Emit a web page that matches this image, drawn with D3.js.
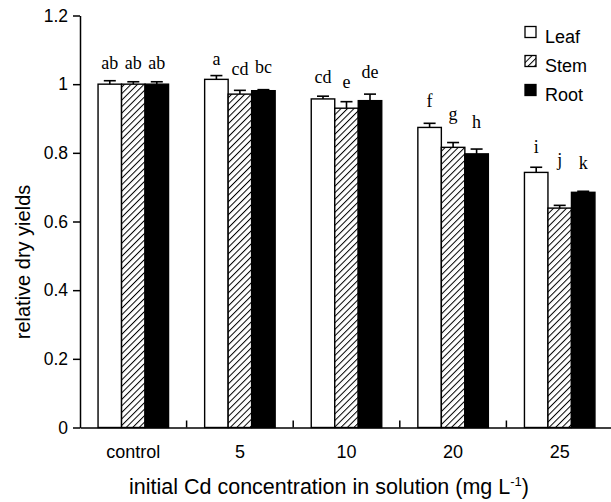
<!DOCTYPE html>
<html>
<head>
<meta charset="utf-8">
<script src="https://cdn.jsdelivr.net/npm/d3@7"></script>
<style>
  html, body { margin: 0; padding: 0; background: #fff; }
  svg { display: block; }
</style>
</head>
<body>
<svg id="chart" width="611" height="502"></svg>
<script>
// ---- data ----
const categories = ["control", "5", "10", "20", "25"];
const seriesNames = ["Leaf", "Stem", "Root"];
const leafValues = [1.000, 1.014, 0.957, 0.874, 0.743];
const stemValues = [1.000, 0.971, 0.930, 0.816, 0.639];
const rootValues = [1.000, 0.981, 0.952, 0.797, 0.685];
const leafErrors = [0.010, 0.011, 0.008, 0.012, 0.015];
const stemErrors = [0.007, 0.011, 0.019, 0.014, 0.008];
const rootErrors = [0.007, 0.003, 0.019, 0.014, 0.003];
const leafLetters = ["ab", "a", "cd", "f", "i"];
const stemLetters = ["ab", "cd", "e", "g", "j"];
const rootLetters = ["ab", "bc", "de", "h", "k"];
const leafLetterLevel = [1.043, 1.056, 1.003, 0.933, 0.800];
const stemLetterLevel = [1.043, 1.027, 0.989, 0.896, 0.762];
const rootLetterLevel = [1.043, 1.032, 1.018, 0.872, 0.753];
const yTickValues = [0, 0.2, 0.4, 0.6, 0.8, 1, 1.2];
const yTitle = "relative dry yields";
const xTitle = "initial Cd concentration in solution (mg L";

// ---- build table ----
const seriesTable = [
  { name: "Leaf", values: leafValues, errors: leafErrors, letters: leafLetters, levels: leafLetterLevel },
  { name: "Stem", values: stemValues, errors: stemErrors, letters: stemLetters, levels: stemLetterLevel },
  { name: "Root", values: rootValues, errors: rootErrors, letters: rootLetters, levels: rootLetterLevel }
];
const records = [];
categories.forEach((c, i) => {
  seriesTable.forEach(s => {
    records.push({ cat: c, series: s.name, value: s.values[i], err: s.errors[i],
                   letter: s.letters[i], level: s.levels[i] });
  });
});

const svg = d3.select("#chart");
const sans = "'Liberation Sans', Arial, sans-serif";
const serif = "'Liberation Serif', 'Times New Roman', serif";

const plotLeft = 80, plotBottom = 427.5, plotTop = 15.5;
const groupStep = 106.6;
const x0 = d3.scaleBand().domain(categories).range([plotLeft, plotLeft + groupStep * categories.length]).paddingInner(0).paddingOuter(0);
const x1 = d3.scaleBand().domain(seriesNames).range([0, x0.bandwidth()]).paddingInner(0).paddingOuter(0.768);
const y = d3.scaleLinear().domain([0, 1.2]).range([plotBottom, plotTop]);

// hatch pattern
const defs = svg.append("defs");
const pat = defs.append("pattern")
  .attr("id", "hatch").attr("patternUnits", "userSpaceOnUse")
  .attr("width", 4.6).attr("height", 4.6)
  .attr("patternTransform", "rotate(45)");
pat.append("rect").attr("width", 4.6).attr("height", 4.6).attr("fill", "#fff");
pat.append("line").attr("x1", 0).attr("y1", 0).attr("x2", 0).attr("y2", 4.6)
  .attr("stroke", "#000").attr("stroke-width", 2);

const fillFor = { Leaf: "#fff", Stem: "url(#hatch)", Root: "#000" };

// bars
svg.append("g").selectAll("rect").data(records).join("rect")
  .attr("x", d => x0(d.cat) + x1(d.series))
  .attr("y", d => y(d.value))
  .attr("width", x1.bandwidth())
  .attr("height", d => y(0) - y(d.value))
  .attr("fill", d => fillFor[d.series])
  .attr("stroke", "#000").attr("stroke-width", 1.4);

// error bars (upper only)
const eg = svg.append("g").attr("stroke", "#000").attr("stroke-width", 1.6);
records.forEach(d => {
  const cx = x0(d.cat) + x1(d.series) + x1.bandwidth() / 2;
  eg.append("line").attr("x1", cx).attr("x2", cx).attr("y1", y(d.value)).attr("y2", y(d.value + d.err));
  eg.append("line").attr("x1", cx - 6).attr("x2", cx + 6).attr("y1", y(d.value + d.err)).attr("y2", y(d.value + d.err));
});

// letters
svg.append("g").selectAll("text").data(records).join("text")
  .attr("x", d => x0(d.cat) + x1(d.series) + x1.bandwidth() / 2)
  .attr("y", d => y(d.level))
  .attr("text-anchor", "middle")
  .attr("font-family", serif).attr("font-size", 18)
  .text(d => d.letter);

// y axis
const yAxis = d3.axisLeft(y).tickValues(yTickValues).tickSize(7).tickSizeOuter(0).tickPadding(5)
  .tickFormat(d => String(+d.toFixed(1)));
const gy = svg.append("g").attr("transform", `translate(${plotLeft},0)`).call(yAxis);
gy.select(".domain").attr("stroke", "#000").attr("stroke-width", 1.5);
gy.selectAll(".tick line").attr("stroke", "#000").attr("stroke-width", 1.5);
gy.selectAll(".tick text").attr("font-family", sans).attr("font-size", 17.5).attr("fill", "#000");

// x axis
const xAxis = d3.axisBottom(x0).tickSize(0).tickPadding(0).tickSizeOuter(0);
const gx = svg.append("g").attr("transform", `translate(0,${plotBottom})`).call(xAxis);
gx.select(".domain").attr("stroke", "#000").attr("stroke-width", 1.5);
gx.selectAll(".tick text").attr("font-family", sans).attr("font-size", 18).attr("fill", "#000")
  .attr("dy", null).attr("y", 30);
// inner tick marks between groups
svg.append("g").selectAll("line").data(categories).join("line")
  .attr("x1", d => x0(d) + x0.bandwidth()).attr("x2", d => x0(d) + x0.bandwidth())
  .attr("y1", plotBottom).attr("y2", plotBottom - 7)
  .attr("stroke", "#000").attr("stroke-width", 1.5);

// axis titles
svg.append("text")
  .attr("transform", `translate(30,262) rotate(-90)`)
  .attr("text-anchor", "middle")
  .attr("font-family", sans).attr("font-size", 20)
  .text(yTitle);

const xt = svg.append("text")
  .attr("x", 329).attr("y", 494)
  .attr("text-anchor", "middle")
  .attr("font-family", sans).attr("font-size", 21.5);
xt.append("tspan").text(xTitle);
xt.append("tspan").attr("font-size", 13).attr("dy", -8).text("-1");
xt.append("tspan").attr("dy", 8).text(")");

// legend
const lg = svg.append("g").selectAll("g").data(seriesNames).join("g")
  .attr("transform", (d, i) => `translate(525,${26.5 + i * 29})`);
lg.append("rect").attr("width", 11).attr("height", 11)
  .attr("fill", d => fillFor[d]).attr("stroke", "#000").attr("stroke-width", 1.3);
lg.append("text").attr("x", 20).attr("y", 16)
  .attr("font-family", sans).attr("font-size", 18)
  .text(d => d);
</script>
</body>
</html>
